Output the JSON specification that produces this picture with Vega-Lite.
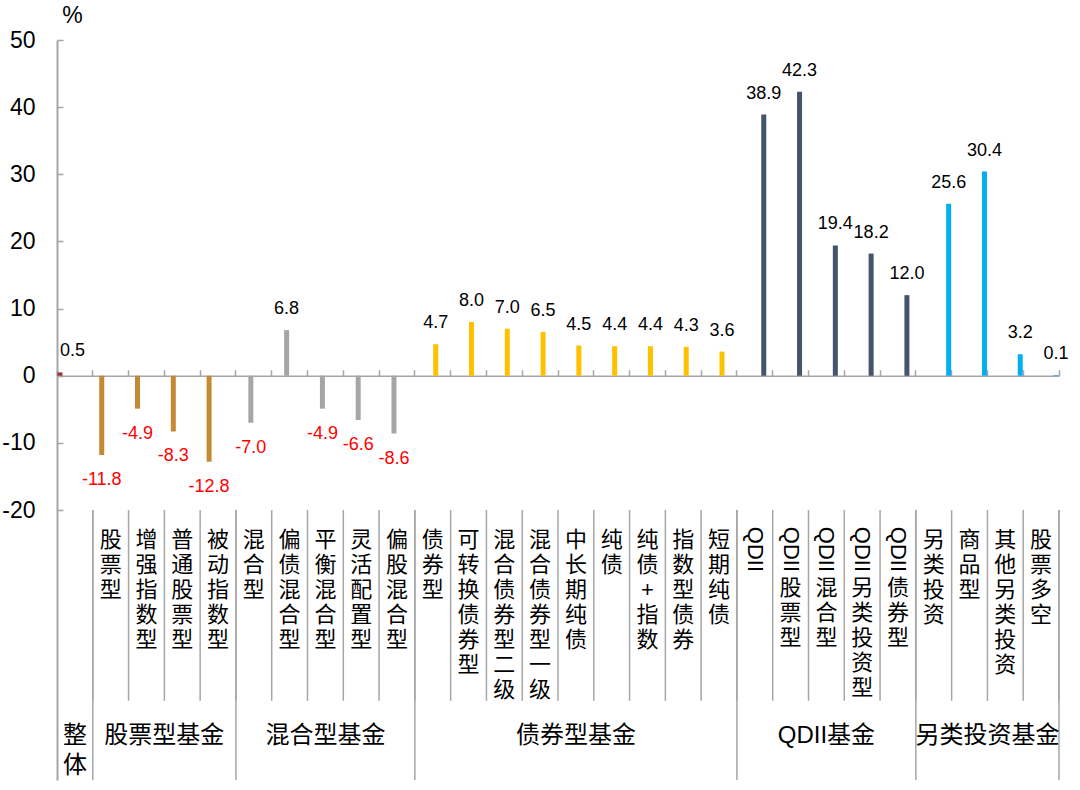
{
  "$schema": "https://vega.github.io/schema/vega-lite/v6.json",
  "width": 1002,
  "height": 740,
  "autosize": {"type": "none"},
  "padding": {"left": 57, "top": 40, "right": 21, "bottom": 10},
  "background": "white",
  "config": {
    "font": "Liberation Sans, Noto Sans CJK SC",
    "view": {"stroke": null},
    "locale": {"number": {"decimal": ".", "thousands": ",", "grouping": [3], "currency": ["", ""], "minus": "-"}}
  },
  "data": {
    "values": [
      {"cat": "整体", "group": "整体", "order": 1, "value": 0.5},
      {"cat": "股票型", "group": "股票型基金", "order": 2, "value": -11.8},
      {"cat": "增强指数型", "group": "股票型基金", "order": 3, "value": -4.9},
      {"cat": "普通股票型", "group": "股票型基金", "order": 4, "value": -8.3},
      {"cat": "被动指数型", "group": "股票型基金", "order": 5, "value": -12.8},
      {"cat": "混合型", "group": "混合型基金", "order": 6, "value": -7.0},
      {"cat": "偏债混合型", "group": "混合型基金", "order": 7, "value": 6.8},
      {"cat": "平衡混合型", "group": "混合型基金", "order": 8, "value": -4.9},
      {"cat": "灵活配置型", "group": "混合型基金", "order": 9, "value": -6.6},
      {"cat": "偏股混合型", "group": "混合型基金", "order": 10, "value": -8.6},
      {"cat": "债券型", "group": "债券型基金", "order": 11, "value": 4.7},
      {"cat": "可转换债券型", "group": "债券型基金", "order": 12, "value": 8.0},
      {"cat": "混合债券型二级", "group": "债券型基金", "order": 13, "value": 7.0},
      {"cat": "混合债券型一级", "group": "债券型基金", "order": 14, "value": 6.5},
      {"cat": "中长期纯债", "group": "债券型基金", "order": 15, "value": 4.5},
      {"cat": "纯债", "group": "债券型基金", "order": 16, "value": 4.4},
      {"cat": "纯债+指数", "group": "债券型基金", "order": 17, "value": 4.4},
      {"cat": "指数型债券", "group": "债券型基金", "order": 18, "value": 4.3},
      {"cat": "短期纯债", "group": "债券型基金", "order": 19, "value": 3.6},
      {"cat": "QDII", "group": "QDII基金", "order": 20, "value": 38.9},
      {"cat": "QDII股票型", "group": "QDII基金", "order": 21, "value": 42.3},
      {"cat": "QDII混合型", "group": "QDII基金", "order": 22, "value": 19.4},
      {"cat": "QDII另类投资型", "group": "QDII基金", "order": 23, "value": 18.2},
      {"cat": "QDII债券型", "group": "QDII基金", "order": 24, "value": 12.0},
      {"cat": "另类投资", "group": "另类投资基金", "order": 25, "value": 25.6},
      {"cat": "商品型", "group": "另类投资基金", "order": 26, "value": 30.4},
      {"cat": "其他另类投资", "group": "另类投资基金", "order": 27, "value": 3.2},
      {"cat": "股票多空", "group": "另类投资基金", "order": 28, "value": 0.1}
    ]
  },
  "layer": [
    {
      "layer": [
        {
          "mark": {"type": "bar"},
          "encoding": {
            "x": {
              "field": "cat", "type": "nominal",
              "scale": {
                "domain": ["整体", "股票型", "增强指数型", "普通股票型", "被动指数型", "混合型", "偏债混合型", "平衡混合型", "灵活配置型", "偏股混合型", "债券型", "可转换债券型", "混合债券型二级", "混合债券型一级", "中长期纯债", "纯债", "纯债+指数", "指数型债券", "短期纯债", "QDII", "QDII股票型", "QDII混合型", "QDII另类投资型", "QDII债券型", "另类投资", "商品型", "其他另类投资", "股票多空"],
                "paddingInner": 0, "paddingOuter": 0
              },
              "axis": {
                "orient": "top", "offset": -335.7, "title": null, "labels": false,
                "ticks": true, "tickSize": 6, "tickWidth": 1.5, "tickColor": "#A6A6A6",
                "domainColor": "#A6A6A6", "domainWidth": 1.5,
                "bandPosition": 1, "tickExtra": true, "grid": false
              }
            },
            "xOffset": {
              "field": "group", "type": "nominal",
              "scale": {"domain": ["整体", "股票型基金", "混合型基金", "债券型基金", "QDII基金", "另类投资基金"], "paddingInner": 0.16, "paddingOuter": 0.08}
            },
            "y": {
              "field": "value", "type": "quantitative",
              "scale": {"domain": [-60.2, 50], "nice": false, "zero": false},
              "axis": {
                "values": [-20, -10, 0, 10, 20, 30, 40, 50],
                "title": "%", "titleAngle": 0, "titleX": 15, "titleY": -18,
                "titleAlign": "center", "titleBaseline": "alphabetic",
                "titleFontSize": 23, "titleFontWeight": "normal", "titleColor": "#000000",
                "labelFontSize": 23, "labelColor": "#000000", "labelPadding": 28,
                "tickSize": -6, "tickColor": "#A6A6A6", "tickWidth": 1.5,
                "domainColor": "#A6A6A6", "domainWidth": 2, "grid": false
              }
            },
            "y2": {"datum": 0},
            "color": {
              "field": "group", "type": "nominal",
              "scale": {
                "domain": ["整体", "股票型基金", "混合型基金", "债券型基金", "QDII基金", "另类投资基金"],
                "range": ["#953735", "#C48A33", "#A6A6A6", "#FFC000", "#44546A", "#00B0F0"]
              },
              "legend": null
            }
          }
        },
        {
          "transform": [{"filter": "datum.value >= 0"}],
          "mark": {"type": "text", "baseline": "alphabetic", "dy": -16, "fontSize": 18, "color": "#000000",
                   "align": {"expr": "datum.group === '整体' ? 'left' : 'center'"}},
          "encoding": {
            "x": {"field": "cat", "type": "nominal", "axis": null},
            "xOffset": {"field": "group", "type": "nominal"},
            "y": {"field": "value", "type": "quantitative", "axis": null},
            "text": {"field": "value", "type": "quantitative", "format": ".1f"}
          }
        },
        {
          "transform": [{"filter": "datum.value < 0"}],
          "mark": {"type": "text", "baseline": "alphabetic", "dy": 30, "fontSize": 18, "color": "#FF0000"},
          "encoding": {
            "x": {"field": "cat", "type": "nominal", "axis": null},
            "xOffset": {"field": "group", "type": "nominal"},
            "y": {"field": "value", "type": "quantitative", "axis": null},
            "text": {"field": "value", "type": "quantitative", "format": ".1f"}
          }
        },
        {
          "mark": {"type": "rule", "color": "#A6A6A6", "strokeWidth": 1.5},
          "encoding": {
            "x": {"field": "cat", "type": "nominal", "bandPosition": 1, "axis": null},
            "y": {"datum": -20, "type": "quantitative", "axis": null},
            "y2": {"datum": -48.4}
          }
        },
        {
          "transform": [
            {"aggregate": [{"op": "argmax", "field": "order", "as": "last"}], "groupby": ["group"]},
            {"calculate": "datum.last.cat", "as": "cat"}
          ],
          "mark": {"type": "rule", "color": "#A6A6A6", "strokeWidth": 1.5},
          "encoding": {
            "x": {"field": "cat", "type": "nominal", "bandPosition": 1, "axis": null},
            "y": {"datum": -20, "type": "quantitative", "axis": null},
            "y2": {"datum": -60.2}
          }
        },
        {
          "transform": [
            {"filter": "indexof(datum.cat, 'QDII') !== 0 && datum.group !== '整体'"},
            {"calculate": "join(split(datum.cat, ''), '\\n')", "as": "lbl"}
          ],
          "mark": {"type": "text", "baseline": "top", "align": "center", "fontSize": 22, "lineHeight": 25, "lineBreak": "\n", "color": "#000000"},
          "encoding": {
            "x": {"field": "cat", "type": "nominal", "axis": null},
            "y": {"datum": -23, "type": "quantitative", "axis": null},
            "text": {"field": "lbl", "type": "nominal"}
          }
        },
        {
          "transform": [
            {"filter": "indexof(datum.cat, 'QDII') === 0"},
            {"calculate": "substring(datum.cat, 0, 4)", "as": "lbl"}
          ],
          "mark": {"type": "text", "baseline": "middle", "align": "left", "angle": 90, "fontSize": 22, "color": "#000000"},
          "encoding": {
            "x": {"field": "cat", "type": "nominal", "axis": null},
            "y": {"datum": -22.5, "type": "quantitative", "axis": null},
            "text": {"field": "lbl", "type": "nominal"}
          }
        },
        {
          "transform": [
            {"filter": "indexof(datum.cat, 'QDII') === 0"},
            {"calculate": "join(split(substring(datum.cat, 4), ''), '\\n')", "as": "lbl"}
          ],
          "mark": {"type": "text", "baseline": "top", "align": "center", "fontSize": 22, "lineHeight": 25, "lineBreak": "\n", "color": "#000000"},
          "encoding": {
            "x": {"field": "cat", "type": "nominal", "axis": null},
            "y": {"datum": -30.1, "type": "quantitative", "axis": null},
            "text": {"field": "lbl", "type": "nominal"}
          }
        }
      ],
      "resolve": {"axis": {"x": "independent", "y": "independent"}}
    },
    {
      "transform": [
        {"aggregate": [{"op": "mean", "field": "order", "as": "mid"}, {"op": "count", "as": "n"}], "groupby": ["group"]},
        {"calculate": "datum.n == 1 ? join(split(datum.group, ''), '\\n') : datum.group", "as": "glabel"}
      ],
      "mark": {"type": "text", "baseline": "top", "align": "center", "fontSize": 24, "lineHeight": 30, "lineBreak": "\n", "color": "#000000"},
      "encoding": {
        "x": {"field": "mid", "type": "quantitative", "scale": {"domain": [0.5, 28.5], "nice": false, "zero": false}, "axis": null},
        "y": {"datum": -51.9, "type": "quantitative", "axis": null},
        "text": {"field": "glabel", "type": "nominal"}
      }
    }
  ],
  "resolve": {"scale": {"x": "independent"}, "axis": {"x": "independent", "y": "independent"}}
}
